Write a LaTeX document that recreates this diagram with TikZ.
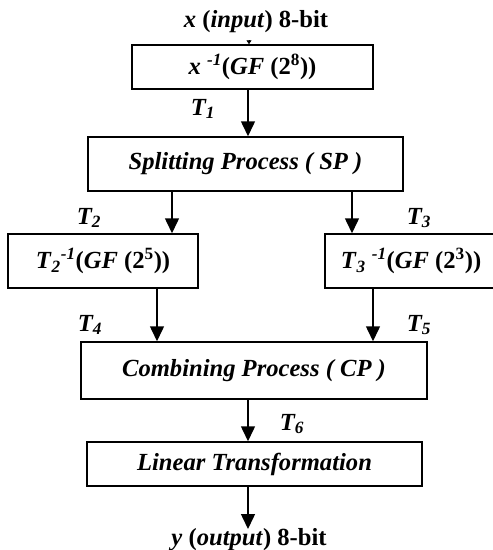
\documentclass[tikz,border=0pt]{standalone}
\usepackage{fontspec}
\setmainfont{Liberation Serif}
\usetikzlibrary{arrows.meta}
\begin{document}
\begin{tikzpicture}[x=1pt,y=-1pt,
  every node/.style={font=\bfseries\fontsize{24.6}{28}\selectfont, inner sep=0pt},
  box/.style={draw, line width=1.5pt},
  arr/.style={line width=1.5pt, -{Triangle[width=14pt,length=15pt]}},
  tinyarr/.style={line width=0.8pt, -{Triangle[width=5pt,length=4pt]}},
  tlabel/.style={font=\bfseries\itshape\fontsize{24.6}{28}\selectfont}]
\useasboundingbox (0,0) rectangle (493,550);

% input / output labels
\node[anchor=base] (inlabel) at (256,27) {\textit{x} (\textit{input}) 8-bit};
\node[anchor=base] (outlabel) at (249,545) {\textit{y} (\textit{output}) 8-bit};

% processing blocks
\node[box, minimum width=241pt, minimum height=44pt] (box1) at (252.5,67)
  {\textit{x} \textsuperscript{\textit{-1}}(\textit{GF} (2\textsuperscript{8}))};
\node[box, minimum width=315pt, minimum height=54pt] (box2) at (245.5,164)
  {\itshape Splitting Process ( SP )};
\node[box, minimum width=190pt, minimum height=54pt] (box3) at (103,261)
  {\textit{T}\textsubscript{\textit{2}}\textsuperscript{\textit{-1}}(\textit{GF} (2\textsuperscript{5}))};
\node[box, minimum width=172pt, minimum height=54pt] (box4) at (411,261)
  {\textit{T}\textsubscript{\textit{3}} \textsuperscript{\textit{-1}}(\textit{GF} (2\textsuperscript{3}))\hspace{8pt}};
\node[box, minimum width=346pt, minimum height=57pt] (box5) at (254,370.5)
  {\itshape Combining Process ( CP )};
\node[box, minimum width=335pt, minimum height=44pt] (box6) at (254.5,464)
  {\itshape Linear Transformation};

% signal labels
\node[tlabel] (t1) at (203,109) {T\textsubscript{1}};
\node[tlabel] (t2) at (89,218) {T\textsubscript{2}};
\node[tlabel] (t3) at (419,218) {T\textsubscript{3}};
\node[tlabel] (t4) at (90,325) {T\textsubscript{4}};
\node[tlabel] (t5) at (419,325) {T\textsubscript{5}};
\node[tlabel] (t6) at (292,424) {T\textsubscript{6}};

% connectors
\coordinate (intip) at (249,40);
\coordinate (outtip) at (248,529);
\draw[tinyarr] (intip) -- (intip |- box1.north);
\draw[arr] ([xshift=-4.5pt]box1.south) -- ([xshift=-4.5pt]box1.south |- box2.north);
\draw[arr] ([xshift=-73.5pt]box2.south) -- ([xshift=-73.5pt]box2.south |- box3.north);
\draw[arr] ([xshift=106.5pt]box2.south) -- ([xshift=106.5pt]box2.south |- box4.north);
\draw[arr] ([xshift=54pt]box3.south) -- ([xshift=54pt]box3.south |- box5.north);
\draw[arr] ([xshift=-38pt]box4.south) -- ([xshift=-38pt]box4.south |- box5.north);
\draw[arr] ([xshift=-6pt]box5.south) -- ([xshift=-6pt]box5.south |- box6.north);
\draw[arr] ([xshift=-6.5pt]box6.south) -- (outtip);
\end{tikzpicture}
\end{document}
